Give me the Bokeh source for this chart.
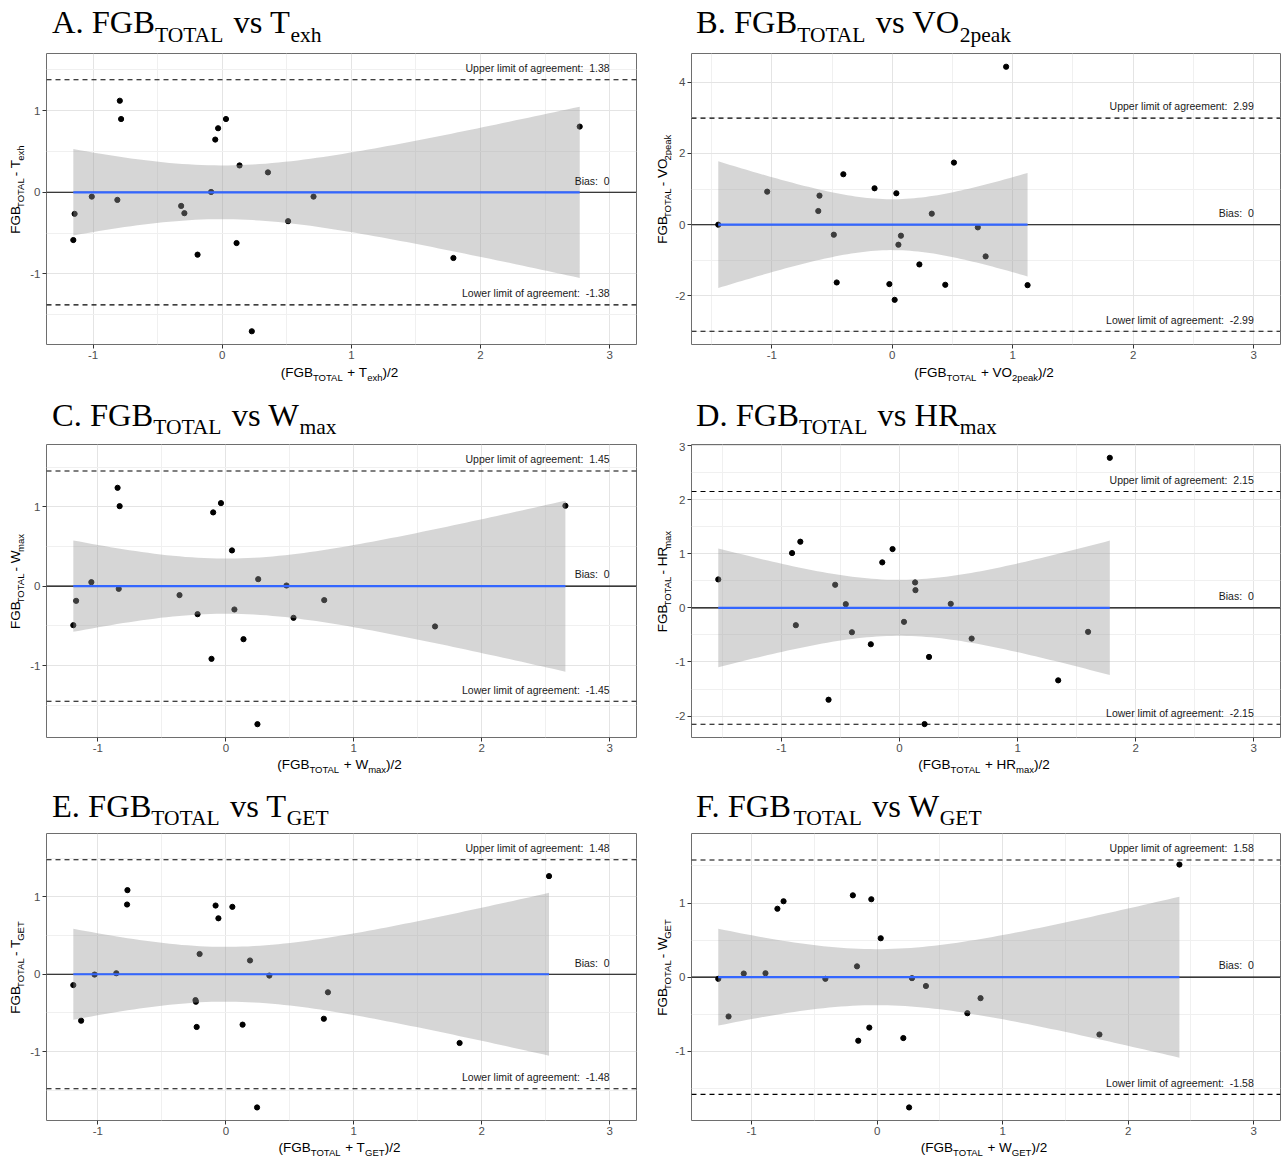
import numpy as np
from bokeh.plotting import figure
from bokeh.models import Label, FixedTicker, Span
from bokeh.layouts import column, row
from bokeh.embed import file_html
from bokeh.resources import INLINE

# ---------------- data ----------------
# A. FGB_TOTAL vs T_exh
a_mean = [-0.793, -0.783, -1.143, -1.153, -1.010, -0.812, -0.318, -0.293, -0.191, -0.086, -0.054,
          -0.032, 0.029, 0.134, 0.111, 0.229, 0.354, 0.510, 0.707, 1.790, 2.768]
a_diff = [1.122, 0.898, -0.264, -0.585, -0.053, -0.093, -0.167, -0.256, -0.764, 0.004, 0.646,
          0.785, 0.898, 0.329, -0.622, -1.703, 0.244, -0.354, -0.053, -0.805, 0.805]
a_limits = [-1.38, 1.38]
# B. FGB_TOTAL vs VO2peak
b_mean = [-1.444, -1.038, -0.604, -0.614, -0.406, -0.485, -0.461, -0.147, 0.034, -0.024, 0.020,
          0.051, 0.072, 0.225, 0.328, 0.440, 0.512, 0.710, 0.775, 0.945, 1.123]
b_diff = [0.000, 0.927, 0.815, 0.384, 1.415, -0.281, -1.621, 1.021, 0.881, -1.667, -2.108,
          -0.562, -0.309, -1.115, 0.309, -1.686, 1.742, -0.075, -0.890, 4.431, -1.696]
b_limits = [-2.99, 2.99]
# C. FGB_TOTAL vs Wmax
c_mean = [-0.846, -0.830, -1.192, -1.170, -1.051, -0.837, -0.362, -0.221, -0.112, -0.099, -0.038,
          0.048, 0.067, 0.138, 0.253, 0.247, 0.474, 0.529, 0.769, 1.635, 2.654]
c_diff = [1.239, 1.008, -0.492, -0.185, 0.050, -0.034, -0.113, -0.353, -0.916, 0.929, 1.046,
          0.450, -0.294, -0.668, 0.088, -1.739, 0.008, -0.399, -0.176, -0.508, 1.013]
c_limits = [-1.45, 1.45]
# D. FGB_TOTAL vs HRmax
d_mean = [1.781, -1.535, -0.910, -0.840, -0.878, -0.545, -0.455, -0.403, -0.601, -0.243, -0.146,
          -0.059, 0.038, 0.132, 0.135, 0.212, 0.250, 0.434, 0.611, 1.344, 1.597]
d_diff = [2.772, 0.525, 1.012, 1.222, -0.321, 0.426, 0.068, -0.451, -1.698, -0.673, 0.840,
          1.086, -0.259, 0.469, 0.327, -2.148, -0.907, 0.074, -0.568, -1.340, -0.444]
d_limits = [-2.15, 2.15]
# E. FGB_TOTAL vs T_GET
e_mean = [-1.192, -1.131, -1.026, -0.856, -0.769, -0.772, -0.237, -0.234, -0.228, -0.205, -0.080,
          -0.058, 0.051, 0.131, 0.189, 0.244, 0.340, 0.766, 0.798, 1.827, 2.526]
e_diff = [-0.140, -0.600, -0.004, 0.013, 1.087, 0.901, -0.334, -0.355, -0.681, 0.262, 0.888,
          0.723, 0.871, -0.651, 0.178, -1.721, -0.017, -0.575, -0.233, -0.888, 1.268]
e_limits = [-1.48, 1.48]
# F. FGB_TOTAL vs W_GET
f_mean = [-1.265, -1.183, -1.062, -0.889, -0.794, -0.745, -0.412, -0.193, -0.160, -0.150, -0.062,
          -0.046, 0.029, 0.209, 0.255, 0.278, 0.389, 0.719, 0.824, 1.771, 2.408]
f_diff = [-0.022, -0.530, 0.049, 0.053, 0.923, 1.024, -0.022, 1.104, 0.146, -0.857, -0.680,
          1.051, 0.525, -0.821, -1.757, -0.013, -0.119, -0.486, -0.283, -0.773, 1.519]
f_limits = [-1.58, 1.58]

bias_value = 0
letters = ["A", "B", "C", "D", "E", "F"]
measure_main = ["T", "VO", "W", "HR", "T", "W"]
measure_sub = ["exh", "2peak", "max", "max", "GET", "GET"]
x_ticks = [-1, 0, 1, 2, 3]
y_ticks_unit = [-2, -1, 0, 1, 2, 3, 4]
y_ticks_two = [-2, 0, 2, 4]
annot_x = 3.0
T_975_DF19 = 2.093024

# ---------------- font metrics (per 1000 em) ----------------
SERIF = {' ': 250, '.': 250, 'A': 722, 'B': 667, 'C': 667, 'D': 722, 'E': 611, 'F': 556, 'G': 722,
         'H': 722, 'L': 611, 'O': 722, 'R': 667, 'T': 611, 'V': 722, 'W': 944, 'a': 444, 'e': 444,
         'h': 500, 'k': 500, 'm': 778, 'p': 500, 's': 389, 'v': 500, 'x': 500, '2': 500}
SANS = {' ': 278, '(': 333, ')': 333, '.': 278, '/': 278, '-': 333, '+': 584, '2': 556, ':': 278,
        'A': 667, 'B': 667, 'E': 667, 'F': 611, 'G': 778, 'H': 722, 'L': 556, 'O': 778, 'R': 722,
        'T': 611, 'V': 667, 'W': 944, 'a': 556, 'e': 556, 'h': 556, 'k': 500, 'm': 833, 'p': 556,
        'x': 500}
SERIF_FONT = "Liberation Serif"
SANS_FONT = "Liberation Sans"
BASE_FIX = 0.35   # observed offset of the drawn baseline, in em


def text_w(s, size, table):
    return sum(table.get(c, 556) for c in s) * size / 1000.0


def text_fig(w, h):
    """A bare figure whose frame is the whole canvas; coordinates are pixels from top-left."""
    f = figure(width=w, height=h, x_range=(0, w), y_range=(0, h), min_border=0,
               x_axis_type=None, y_axis_type=None, output_backend="svg",
               toolbar_location=None, tools="")
    f.outline_line_color = None
    f.background_fill_color = "white"
    f.border_fill_color = "white"
    f.xgrid.visible = False
    f.ygrid.visible = False
    return f


def put(f, h, sx, sy, text, size, font, color, angle=0.0):
    if angle:
        sx = sx - BASE_FIX * size
    else:
        sy = sy - BASE_FIX * size
    f.add_layout(Label(x=sx, y=h - sy, text=text, text_font=font, text_font_size=f"{size}px",
                       text_color=color, angle=angle, text_align="left",
                       text_baseline="alphabetic"))


def runs_h(f, h, sx, sy, runs, font, table, color, center=False):
    total = sum(text_w(t, s, table) for t, s, dy in runs)
    x = sx - total / 2 if center else sx
    for t, s, dy in runs:
        lead = len(t) - len(t.lstrip(" "))
        put(f, h, x + text_w(" " * lead, s, table), sy + dy, t.lstrip(" "), s, font, color)
        x += text_w(t, s, table)


def runs_v(f, h, sx, syc, runs, font, table, color):
    total = sum(text_w(t, s, table) for t, s, dy in runs)
    y = syc + total / 2
    for t, s, dy in runs:
        lead = len(t) - len(t.lstrip(" "))
        put(f, h, sx + dy, y - text_w(" " * lead, s, table), t.lstrip(" "), s, font, color,
            angle=np.pi / 2)
        y -= text_w(t, s, table)


panels = [
    (a_mean, a_diff, a_limits), (b_mean, b_diff, b_limits), (c_mean, c_diff, c_limits),
    (d_mean, d_diff, d_limits), (e_mean, e_diff, e_limits), (f_mean, f_diff, f_limits),
]

TOP_PAD = 2
TICK_AREA = 21
# per row: title strip height, frame height, x-title strip height, baselines
row_geo = [dict(title_h=51, fh=291, xlab_h=19, title_base=33.3, xlab_base=11.5),
           dict(title_h=58, fh=293, xlab_h=18, title_base=41.7, xlab_base=11),
           dict(title_h=55, fh=287, xlab_h=17, title_base=40.7, xlab_base=11)]
# per column: panel width, y-title strip width, axis border, frame width, right border
col_geo = [dict(pw=644, ylab_w=27, left=17, fw=590, right=10, title_dx=7.5, ylab_base=19.7),
           dict(pw=640, ylab_w=26, left=17, fw=589, right=8, title_dx=6.5, ylab_base=20.5)]

cells = []
for i, (xm, yd, lim) in enumerate(panels):
    xm = np.array(xm, dtype=float)
    yd = np.array(yd, dtype=float)
    lower, upper = lim
    rg = row_geo[i // 2]
    cg = col_geo[i % 2]

    # ranges like ggplot (5% expansion), including the annotation positions
    xlo, xhi = min(xm.min(), annot_x), max(xm.max(), annot_x)
    xs = xhi - xlo
    x0, x1 = xlo - 0.05 * xs, xhi + 0.05 * xs
    ylo = min(yd.min(), lower)
    yhi = max(yd.max(), upper * 1.115)
    ys = yhi - ylo
    y0, y1 = ylo - 0.05 * ys, yhi + 0.05 * ys

    p = figure(frame_width=cg["fw"], frame_height=rg["fh"], x_range=(x0, x1), y_range=(y0, y1),
               min_border_left=cg["left"], min_border_right=cg["right"],
               min_border_top=TOP_PAD, min_border_bottom=TICK_AREA,
               output_backend="svg", toolbar_location=None, tools="")
    p.background_fill_color = "white"
    p.border_fill_color = "white"
    p.outline_line_color = "#6e6e6e"
    p.outline_line_width = 1

    yt = y_ticks_two if i == 1 else y_ticks_unit
    ystep = yt[1] - yt[0]
    yminor = [t + ystep / 2 for t in yt] + [yt[0] - ystep / 2]
    p.xaxis.ticker = FixedTicker(ticks=x_ticks, minor_ticks=[t + 0.5 for t in x_ticks] + [x_ticks[0] - 0.5])
    p.yaxis.ticker = FixedTicker(ticks=yt, minor_ticks=yminor)
    p.xaxis.major_label_overrides = {t: f"{t:g}" for t in x_ticks}
    p.yaxis.major_label_overrides = {t: f"{t:g}" for t in yt}
    for ax in (p.xaxis[0], p.yaxis[0]):
        ax.axis_line_color = None
        ax.major_tick_line_color = "#333333"
        ax.major_tick_in = 0
        ax.major_tick_out = 4
        ax.minor_tick_line_color = None
        ax.major_label_text_font = SANS_FONT
        ax.major_label_text_font_size = "11.5px"
        ax.major_label_text_color = "#4D4D4D"
        ax.major_label_standoff = 2
    p.xgrid.grid_line_color = "#E4E4E4"
    p.ygrid.grid_line_color = "#E4E4E4"
    p.xgrid.minor_grid_line_color = "#F0F0F0"
    p.ygrid.minor_grid_line_color = "#F0F0F0"

    # reference lines
    p.add_layout(Span(location=bias_value, dimension="width", line_color="black", line_width=1.1,
                      level="underlay"))
    for lv in lim:
        p.add_layout(Span(location=lv, dimension="width", line_color="black", line_width=1.1,
                          line_dash="5 4", level="underlay"))

    # points
    p.scatter(xm, yd, size=5.2, color="black")

    # linear-fit confidence band around the bias line
    n = len(xm)
    slope, icpt = np.polyfit(xm, yd, 1)
    resid = yd - (icpt + slope * xm)
    s = np.sqrt(np.sum(resid ** 2) / (n - 2))
    sxx = np.sum((xm - xm.mean()) ** 2)
    gx = np.linspace(xm.min(), xm.max(), 80)
    half = T_975_DF19 * s * np.sqrt(1.0 / n + (gx - xm.mean()) ** 2 / sxx)
    p.varea(x=gx, y1=bias_value - half, y2=bias_value + half, fill_color="#999999", fill_alpha=0.4)
    p.line(gx, np.full_like(gx, bias_value), line_color="#3366FF", line_width=2.2)

    # annotation texts inside the panel (baseline 8 px above each line)
    ppu = rg["fh"] / (y1 - y0)
    off = (8.0 + BASE_FIX * 10.5) / ppu
    txt_col = "#1A1A1A"
    for yv, txt in [(upper, f"Upper limit of agreement: \u00a0{upper:.2f}"),
                    (lower, f"Lower limit of agreement: \u00a0{lower:.2f}"),
                    (bias_value, f"Bias: \u00a0{bias_value:g}")]:
        p.add_layout(Label(x=annot_x, y=yv + off, text=txt, text_font=SANS_FONT,
                           text_font_size="10.5px", text_color=txt_col, text_align="right",
                           text_baseline="alphabetic"))

    mm, ms = measure_main[i], measure_sub[i]
    frame_left = cg["ylab_w"] + cg["left"]

    # title strip
    th = rg["title_h"]
    tf = text_fig(cg["pw"], th)
    runs_h(tf, th, frame_left + cg["title_dx"], rg["title_base"],
           [(f"{letters[i]}. FGB", 32.5, 0), ("TOTAL", 21.5, 8.4), (f" vs {mm}", 32.5, 0), (ms, 21.5, 8.4)],
           SERIF_FONT, SERIF, "black")

    # y title strip
    mh = TOP_PAD + rg["fh"] + TICK_AREA
    yf = text_fig(cg["ylab_w"], mh)
    runs_v(yf, mh, cg["ylab_base"], TOP_PAD + rg["fh"] / 2,
           [("FGB", 13.5, 0), ("TOTAL", 9.5, 3.5), (f" - {mm}", 13.5, 0), (ms, 9.5, 3.5)],
           SANS_FONT, SANS, "black")

    # x title strip
    xh = rg["xlab_h"]
    xf = text_fig(cg["pw"], xh)
    runs_h(xf, xh, frame_left + cg["fw"] / 2, rg["xlab_base"],
           [("(FGB", 13.5, 0), ("TOTAL", 9.5, 3.5), (f" + {mm}", 13.5, 0), (ms, 9.5, 3.5), (")/2", 13.5, 0)],
           SANS_FONT, SANS, "black", center=True)

    cells.append(column(tf, row(yf, p), xf))

layout = column(row(cells[0], cells[1]), row(cells[2], cells[3]), row(cells[4], cells[5]))
open("out.html", "w").write(file_html(layout, INLINE))
